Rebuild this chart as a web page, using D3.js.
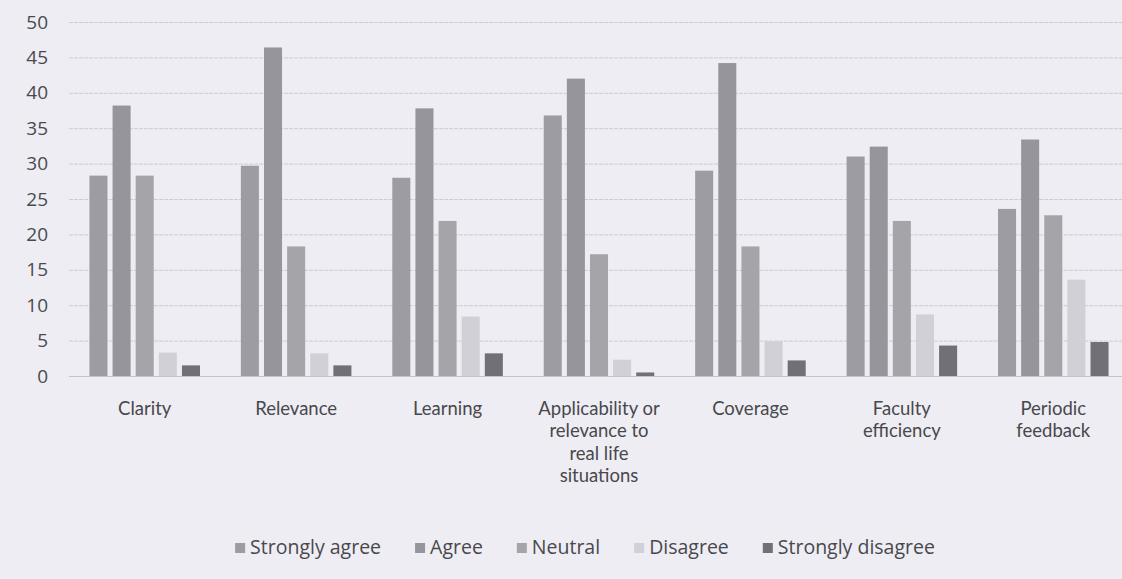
<!DOCTYPE html>
<html><head><meta charset="utf-8">
<script src="https://cdn.jsdelivr.net/npm/d3@7"></script>
<style>
html,body{margin:0;padding:0;background:#eeedf3;}
svg{display:block;font-family:"Open Sans","Noto Sans",sans-serif;}
</style></head>
<body><svg id="chart" width="1122" height="579"></svg>
<script>
const categories = ["Clarity","Relevance","Learning","Applicability or relevance to real life situations","Coverage","Faculty efficiency","Periodic feedback"];
const categoryLines = [["Clarity"],["Relevance"],["Learning"],["Applicability or","relevance to","real life","situations"],["Coverage"],["Faculty","efficiency"],["Periodic","feedback"]];
const series = ["Strongly agree","Agree","Neutral","Disagree","Strongly disagree"];
const stronglyAgree   = [28.3, 29.7, 28.0, 36.8, 29.0, 31.0, 23.6];
const agree           = [38.2, 46.4, 37.8, 42.0, 44.2, 32.4, 33.4];
const neutral         = [28.3, 18.3, 21.9, 17.2, 18.3, 21.9, 22.7];
const disagree        = [3.3, 3.2, 8.4, 2.3, 4.9, 8.7, 13.6];
const stronglyDisagree= [1.5, 1.5, 3.2, 0.5, 2.2, 4.3, 4.8];
const yTicks = [0,5,10,15,20,25,30,35,40,45,50];
const colors = ["#9c9ca2","#95959b","#a4a4a9","#d0d0d6","#707076"];

const values = [stronglyAgree, agree, neutral, disagree, stronglyDisagree];
const svg = d3.select("#chart");

const x0 = d3.scaleBand().domain(categories).range([69,1129]).paddingInner(0.27).paddingOuter(0.135);
const x1 = d3.scaleBand().domain(series).range([0,x0.bandwidth()]).paddingInner(0.22);
const y = d3.scaleLinear().domain([0,50]).range([376,22]);

// gridlines
svg.append("g").selectAll("line").data(yTicks).join("line")
  .attr("x1",69).attr("x2",1122)
  .attr("y1",d=>y(d)+0.5).attr("y2",d=>y(d)+0.5)
  .attr("stroke",d=>d===0?"#c4c4cf":"#cbcbd9").attr("stroke-width",1)
  .attr("stroke-dasharray",d=>d===0?null:"4,1");

// y axis
const yAxis = d3.axisLeft(y).tickValues(yTicks).tickSize(0).tickPadding(0);
const gy = svg.append("g").attr("transform","translate(48,0)").call(yAxis);
gy.select(".domain").remove();
gy.selectAll("text").attr("fill","#4a4a4e").attr("font-size","19px").attr("font-family","'Open Sans',sans-serif");

// bars
const groups = svg.append("g").selectAll("g").data(categories).join("g")
  .attr("transform",d=>`translate(${x0(d)},0)`);
groups.selectAll("rect").data((d,i)=>series.map((s,j)=>({s,j,v:values[j][i]}))).join("rect")
  .attr("x",d=>x1(d.s)).attr("width",x1.bandwidth())
  .attr("y",d=>y(d.v)).attr("height",d=>y(0)-y(d.v))
  .attr("fill",d=>colors[d.j]);

// x labels
const xl = svg.append("g").selectAll("text").data(categories).join("text")
  .attr("text-anchor","middle").attr("fill","#48484c").attr("font-size","18.5px")
  .attr("font-family","Lato,'Open Sans',sans-serif")
  .attr("x",d=>x0(d)+x0.bandwidth()/2).attr("y",415);
xl.selectAll("tspan").data((d,i)=>categoryLines[i]).join("tspan")
  .attr("x",function(){return d3.select(this.parentNode).attr("x");})
  .attr("dy",(d,i)=>i===0?0:22.3).text(d=>d);

// legend
const lg = svg.append("g");
const items = lg.selectAll("g").data(series).join("g");
items.append("rect").attr("width",10).attr("height",10).attr("y",-8).attr("fill",(d,i)=>colors[i]);
items.append("text").attr("x",15).attr("y",0).attr("dy","0.3em").attr("font-size","19.5px").attr("fill","#48484c")
  .attr("transform","translate(0,-3)").text(d=>d);
const gap = 34;
let cx = 0;
items.each(function(){
  const w = 15 + d3.select(this).select("text").node().getComputedTextLength();
  d3.select(this).attr("transform",`translate(${cx},0)`);
  cx += w + gap;
});
const total = cx - gap;
lg.attr("transform",`translate(${585 - total/2},551)`);
</script></body></html>
